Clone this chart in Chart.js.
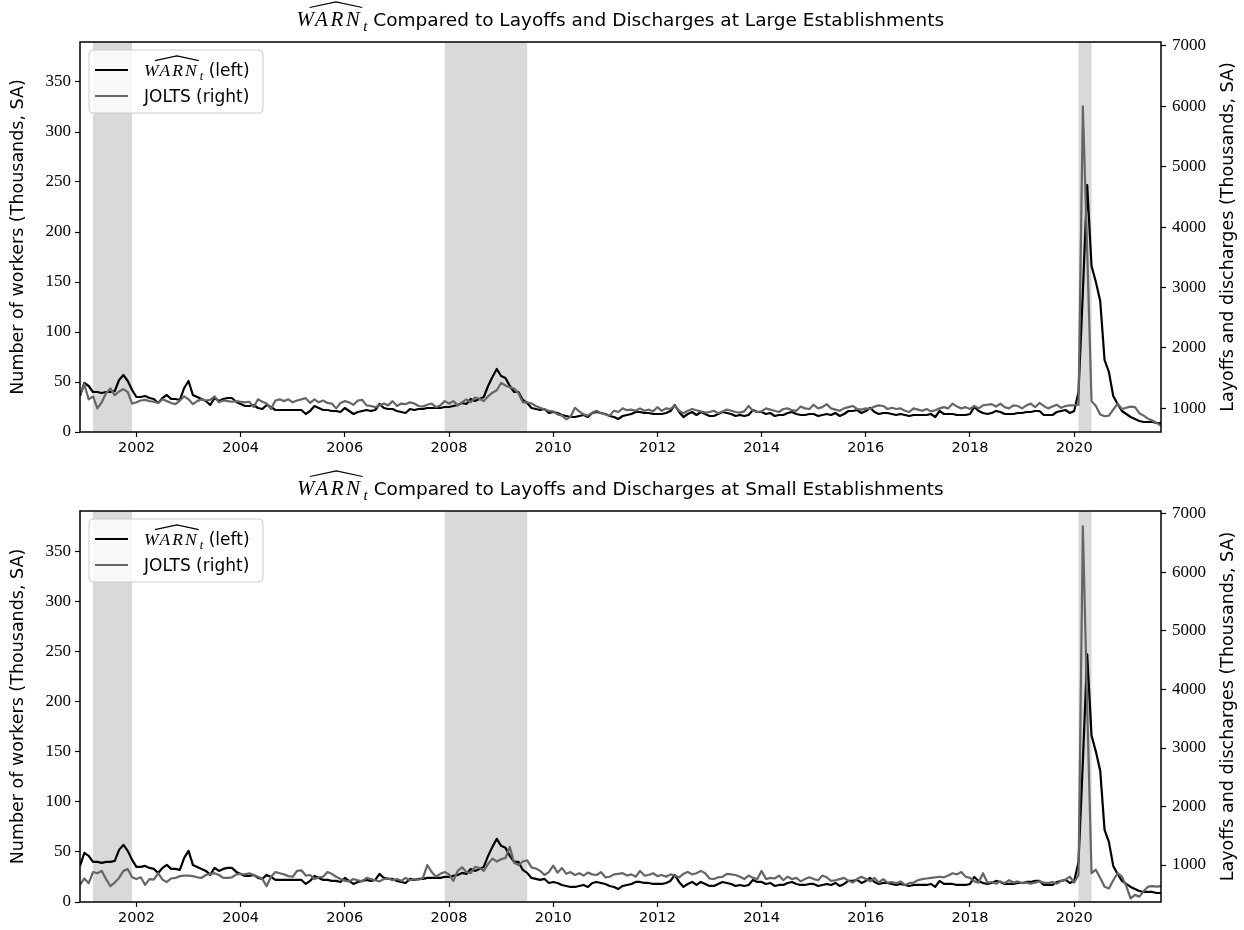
<!DOCTYPE html>
<html><head><meta charset="utf-8">
<script src="https://cdn.jsdelivr.net/npm/chart.js@4.4.0/dist/chart.umd.min.js"></script>
<style>
html,body{margin:0;padding:0;background:#fff;}
#wrap{position:relative;width:1244px;height:930px;background:#fff;}
canvas{position:absolute;left:0;}
</style></head><body>
<div id="wrap">
<canvas id="c1" width="1244" height="465" style="top:0px"></canvas>
<canvas id="c2" width="1244" height="465" style="top:465px"></canvas>
</div>
<script>
// ---- data (monthly, Dec 2000 .. Sep 2021) ----
const startYear = 2000, startMonth = 12;
const warn = [36,
 49,46,40,40,39,40,40,41,52,57,51,42,
 35,35,36,34,33,29,34,37,33,33,32,44,
 51,37,35,33,31,27,34,31,33,34,34,30,
 28,26,26,27,24,23,27,25,22,22,22,22,
 22,22,22,18,21,26,24,22,22,21,21,20,
 24,21,18,20,21,22,21,22,28,24,23,23,
 21,20,19,23,22,23,23,24,24,24,24,25,
 25,26,27,29,28,33,31,33,35,46,55,63,
 56,54,46,40,40,32,29,24,23,22,23,19,
 20,19,17,16,15,15,16,17,15,19,20,19,
 18,16,15,13,16,17,18,20,20,19,19,18,
 18,18,19,21,27,20,15,18,20,17,20,18,
 16,16,18,20,19,18,16,17,16,17,22,20,
 20,18,19,16,17,17,19,20,18,17,17,18,
 18,16,17,18,17,19,16,18,21,21,22,19,
 21,24,20,18,19,19,18,17,18,17,16,17,
 17,17,17,18,15,21,18,18,18,17,17,17,
 18,25,21,19,18,19,21,20,18,18,18,19,
 19,20,20,21,21,17,17,17,20,21,22,19,
 21,40,140,247,166,150,131,72,60,36,28,21,
 18,15,13,11,10,10,10,9,9];
const joltsLarge = [1230,
 1400,1150,1200,1000,1100,1250,1330,1220,1280,1320,1270,1080,
 1100,1130,1140,1120,1110,1090,1150,1120,1090,1070,1130,1200,
 1150,1070,1120,1150,1130,1140,1200,1100,1130,1120,1110,1120,
 1110,1100,1110,1020,1150,1110,1080,990,1130,1150,1120,1150,
 1100,1130,1150,1170,1090,1150,1100,1130,1090,1080,1000,1090,
 1120,1100,1060,1130,1140,1050,1040,1020,1050,1080,1050,1120,
 1040,1080,1070,1100,1080,1040,1030,1060,1080,1020,1050,1120,
 1080,1120,1050,1100,1150,1100,1180,1160,1120,1200,1260,1300,
 1420,1380,1350,1330,1250,1100,1100,1080,1040,1010,980,960,
 950,900,880,820,860,1010,950,900,880,930,960,920,
 900,880,960,940,1000,970,980,960,1000,960,980,950,
 1020,960,1000,990,1050,960,920,960,990,970,950,930,
 940,960,920,950,980,960,940,930,950,1040,960,940,
 950,1000,980,960,940,990,1000,970,960,1030,1000,990,
 1060,1000,1020,1070,1000,980,960,1000,1020,1040,990,980,
 1000,990,1030,1050,1040,990,1010,990,1000,960,940,1000,
 980,960,990,950,970,1000,1020,1000,1080,1030,1000,1020,
 990,1040,1000,1050,1060,1070,1030,1080,1020,1000,1050,1040,
 1000,1050,1080,1020,1090,1040,1000,1030,1060,1010,1040,1050,
 1050,1060,6000,3600,1120,1040,900,870,880,980,1080,990,
 1010,1030,1020,920,880,830,800,760,710];
const joltsSmall = [660,
 770,690,880,860,900,760,640,700,780,900,930,790,
 760,790,660,760,750,860,750,710,770,780,810,820,
 820,810,790,780,830,850,860,830,780,780,790,840,
 850,840,860,830,800,760,640,800,880,860,840,810,
 800,900,910,820,830,760,790,800,880,850,800,760,
 730,720,760,740,720,780,760,740,720,760,770,740,
 760,730,780,740,760,750,780,1000,880,800,850,880,
 840,730,900,960,880,860,970,950,900,1020,1110,1060,
 1100,1120,1310,1040,1000,1060,1080,960,940,900,830,880,
 990,870,950,850,880,830,860,820,870,840,830,880,
 790,800,840,850,860,820,840,800,900,820,830,860,
 810,830,800,840,820,790,850,880,840,860,900,860,
 770,760,790,800,850,840,830,800,760,820,780,760,
 900,760,780,770,820,740,800,760,780,720,760,790,
 760,740,820,790,730,740,760,780,730,700,760,800,
 760,720,780,700,760,700,710,690,720,660,690,700,
 740,760,770,780,790,800,790,820,860,840,880,800,
 780,720,700,860,700,710,680,720,690,740,700,720,
 690,700,680,700,720,700,690,710,680,730,750,800,
 700,830,6790,3700,860,920,780,630,600,740,860,800,
 640,430,490,460,550,630,640,630,640];
const yearTicks = [2002,2004,2006,2008,2010,2012,2014,2016,2018,2020];
const leftTicks = [0,50,100,150,200,250,300,350];
const rightTicks = [1000,2000,3000,4000,5000,6000,7000];
// recessions: [startYear, startMonth, endYear, endMonth]
const recessions = [[2001,3,2001,11],[2007,12,2009,6],[2020,2,2020,4]];
const titleRest = [' Compared to Layoffs and Discharges at Large Establishments',
                   ' Compared to Layoffs and Discharges at Small Establishments'];
const legendWarnSuffix = ' (left)';
const legendJolts = 'JOLTS (right)';
const leftTitle = 'Number of workers (Thousands, SA)';
const rightTitle = 'Layoffs and discharges (Thousands, SA)';

// ---- helpers ----
const monthX = i => startYear + (startMonth - 1) / 12 + i / 12;
const toXY = arr => arr.map((v, i) => ({x: monthX(i), y: v}));
const SANS = '"DejaVu Sans"';
const SERIF = '"Liberation Serif"';

function drawWarn(ctx, x, baseline, size) {
  ctx.save();
  ctx.fillStyle = '#000'; ctx.strokeStyle = '#000';
  ctx.textBaseline = 'alphabetic'; ctx.textAlign = 'left';
  ctx.font = `italic ${size}px ${SERIF}`;
  ctx.letterSpacing = (size * 0.12).toFixed(1) + 'px';
  ctx.fillText('WARN', x, baseline);
  const w = ctx.measureText('WARN').width;
  ctx.letterSpacing = '0px';
  ctx.beginPath();
  ctx.moveTo(x + 0.2 * w, baseline - 0.88 * size);
  ctx.lineTo(x + 0.6 * w, baseline - 1.15 * size);
  ctx.lineTo(x + 1.0 * w, baseline - 0.88 * size);
  ctx.lineWidth = 1.1; ctx.stroke();
  ctx.font = `italic ${size * 0.72}px ${SERIF}`;
  ctx.fillText('t', x + w + 1, baseline + size * 0.22);
  const end = x + w + 1 + ctx.measureText('t').width;
  ctx.restore();
  return end;
}

function makeChart(canvasId, jolts, titleText, geom) {
  const H = 465;
  const plugin = {
    id: 'decor' + canvasId,
    beforeDatasetsDraw(chart) {
      const {ctx, chartArea: a, scales: {x}} = chart;
      ctx.save();
      ctx.fillStyle = '#d9d9d9';
      recessions.forEach(r => {
        const x1 = x.getPixelForValue(r[0] + (r[1] - 1) / 12);
        const x2 = x.getPixelForValue(r[2] + r[3] / 12);
        ctx.fillRect(x1, a.top, x2 - x1, a.bottom - a.top);
      });
      ctx.restore();
    },
    afterDraw(chart) {
      const {ctx, chartArea: a} = chart;
      // frame
      ctx.save();
      ctx.strokeStyle = '#000'; ctx.lineWidth = 1.5;
      ctx.strokeRect(a.left, a.top, a.right - a.left, a.bottom - a.top);
      // right axis title (reads bottom to top)
      ctx.save();
      ctx.translate(1228, (a.top + a.bottom) / 2);
      ctx.rotate(-Math.PI / 2);
      ctx.font = `17.5px ${SANS}`; ctx.fillStyle = '#000';
      ctx.textAlign = 'center'; ctx.textBaseline = 'middle';
      ctx.fillText(rightTitle, 0, 0);
      ctx.restore();
      // title
      const tsize = 21, ssize = 18.5;
      ctx.font = `${ssize}px ${SANS}`;
      const restW = ctx.measureText(titleText).width;
      ctx.font = `italic ${tsize}px ${SERIF}`;
      ctx.letterSpacing = (tsize * 0.12).toFixed(1) + 'px';
      const ww = ctx.measureText('WARN').width + 1 + tsize * 0.72 * 0.3;
      ctx.letterSpacing = '0px';
      const cx = (a.left + a.right) / 2;
      let sx = cx - (ww + restW) / 2;
      const tb = a.top - geom.titleGap;
      const e = drawWarn(ctx, sx, tb, tsize);
      ctx.font = `${ssize}px ${SANS}`;
      ctx.fillStyle = '#000'; ctx.textBaseline = 'alphabetic'; ctx.textAlign = 'left';
      ctx.fillText(titleText, e, tb);
      // legend
      const lx = a.left + 9, ly = a.top + 8, lw = 174, lh = 63;
      ctx.beginPath();
      ctx.roundRect(lx, ly, lw, lh, 4);
      ctx.fillStyle = 'rgba(255,255,255,0.8)'; ctx.fill();
      ctx.strokeStyle = '#cccccc'; ctx.lineWidth = 1; ctx.stroke();
      const rows = [[ly + 20, '#000'], [ly + 46, '#666666']];
      rows.forEach(([yy, col]) => {
        ctx.beginPath(); ctx.moveTo(lx + 6, yy); ctx.lineTo(lx + 39, yy);
        ctx.strokeStyle = col; ctx.lineWidth = 2.2; ctx.stroke();
      });
      const e2 = drawWarn(ctx, lx + 55, rows[0][0] + 6, 17.5);
      ctx.font = `17px ${SANS}`; ctx.fillStyle = '#000';
      ctx.fillText(legendWarnSuffix, e2, rows[0][0] + 6);
      ctx.fillText(legendJolts, lx + 55, rows[1][0] + 6);
      ctx.restore();
    }
  };
  const tickGrid = {display: true, drawOnChartArea: false, drawTicks: true, tickLength: 5, tickColor: '#000', tickWidth: 1.2};
  return new Chart(document.getElementById(canvasId), {
    type: 'line',
    data: {datasets: [
      {label: 'WARN', data: toXY(warn), yAxisID: 'y', borderColor: '#000', borderWidth: 2.2, pointRadius: 0, tension: 0, borderJoinStyle: 'round', order: 1},
      {label: 'JOLTS', data: toXY(jolts), yAxisID: 'y2', borderColor: '#666666', borderWidth: 2.2, pointRadius: 0, tension: 0, borderJoinStyle: 'round', order: 0}
    ]},
    options: {
      responsive: false, animation: false, devicePixelRatio: 1,
      layout: {padding: {top: geom.top, left: 0, right: 0, bottom: 0}},
      plugins: {legend: {display: false}, tooltip: {enabled: false}, title: {display: false}},
      scales: {
        x: {type: 'linear', min: monthX(0), max: monthX(warn.length - 1),
            afterBuildTicks: s => { s.ticks = yearTicks.map(v => ({value: v})); },
            afterFit: s => { s.height = H - geom.bottom; },
            ticks: {callback: v => String(v), color: '#000', font: {family: 'DejaVu Sans', size: 14.5}, maxRotation: 0, autoSkip: false, padding: 3},
            grid: tickGrid, border: {display: false}},
        y: {type: 'linear', position: 'left', min: 0, max: 390,
            afterBuildTicks: s => { s.ticks = leftTicks.map(v => ({value: v})); },
            afterFit: s => { s.width = 80; },
            ticks: {callback: v => String(v), color: '#000', font: {family: 'Liberation Serif', size: 17}, padding: 4},
            title: {display: true, text: leftTitle, color: '#000', font: {family: 'DejaVu Sans', size: 17.5}, padding: {top: 8, bottom: 0}},
            grid: tickGrid, border: {display: false}},
        y2: {type: 'linear', position: 'right', min: geom.rmin, max: geom.rmax,
            afterBuildTicks: s => { s.ticks = rightTicks.map(v => ({value: v})); },
            afterFit: s => { s.width = 83; },
            ticks: {callback: v => String(v), color: '#000', font: {family: 'Liberation Serif', size: 17}, padding: 6},
            title: {display: false},
            grid: tickGrid, border: {display: false}}
      }
    },
    plugins: [plugin]
  });
}

makeChart('c1', joltsLarge, titleRest[0], {top: 42, bottom: 432, rmin: 609, rmax: 7066, titleGap: 16});
makeChart('c2', joltsSmall, titleRest[1], {top: 46, bottom: 437, rmin: 368, rmax: 7051, titleGap: 16});
</script>
</body></html>
